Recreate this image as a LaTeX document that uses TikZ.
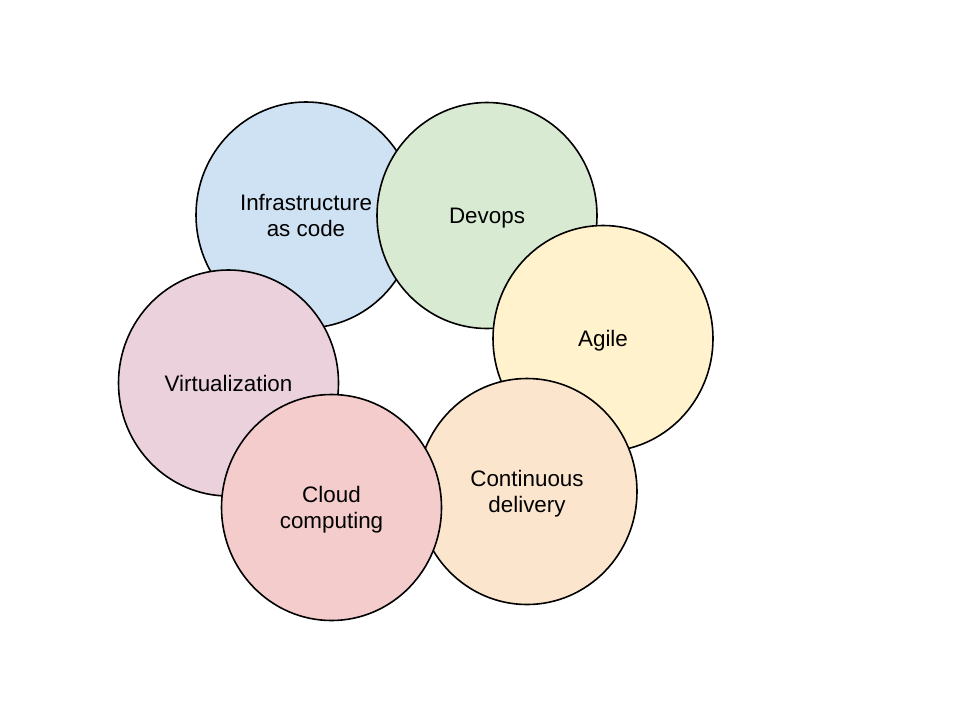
\documentclass[tikz,border=0pt]{standalone}
\usepackage{fontspec}
\setmainfont{Liberation Sans}
\usetikzlibrary{shapes.geometric}

\definecolor{infrablue}{HTML}{CFE2F3}
\definecolor{devgreen}{HTML}{D9EAD3}
\definecolor{agileyellow}{HTML}{FFF2CC}
\definecolor{cdorange}{HTML}{FCE5CD}
\definecolor{virtpink}{HTML}{EAD1DC}
\definecolor{cloudred}{HTML}{F4CCCC}

\tikzset{
  topic/.style={ellipse, draw=black, line width=1.6pt, inner sep=0pt,
    minimum width=220pt, minimum height=226pt, align=center, text depth=0pt,
    font=\fontsize{22.4}{26}\selectfont},
}

\begin{document}
\begin{tikzpicture}[%
x=1pt, y=-1pt,
]
\useasboundingbox (0,0) rectangle (960,720);
%% circle;
\node [topic, fill=infrablue] (infra) at (306,215) {Infrastructure\\as code};
%% circle;
\node [topic, fill=devgreen] (devops) at (487,215.5) {Devops};
%% circle;
\node [topic, fill=agileyellow] (agile) at (603,338.5) {Agile};
%% circle;
\node [topic, fill=cdorange] (contdel) at (527,491.5) {Continuous\\delivery};
%% circle;
\node [topic, fill=virtpink] (virt) at (228.5,383) {Virtualization};
%% circle;
\node [topic, fill=cloudred] (cloud) at (331.5,507.5) {Cloud\\computing};
\end{tikzpicture}
\end{document}
